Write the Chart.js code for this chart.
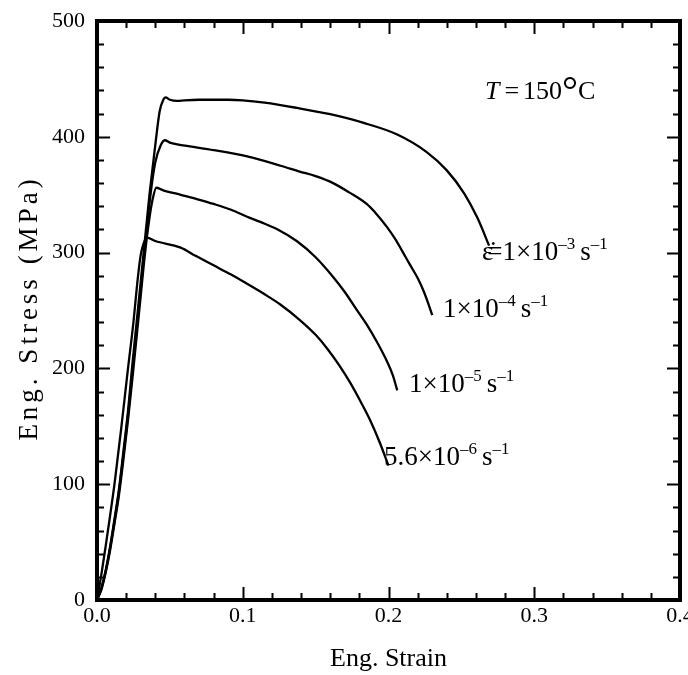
<!DOCTYPE html>
<html>
<head>
<meta charset="utf-8">
<script src="https://cdn.jsdelivr.net/npm/chart.js@4.4.0/dist/chart.umd.min.js"></script>
<style>
  html, body { margin: 0; padding: 0; background: #fff; }
  #wrap { width: 688px; height: 675px; }
</style>
</head>
<body>
<div id="wrap"><canvas id="myChart" width="688" height="675"></canvas></div>
<script>
// strain / stress pairs, one pair of arrays per strain rate
const strain1 = [0, 0.003, 0.006, 0.009, 0.012, 0.015, 0.018, 0.0215, 0.024, 0.028, 0.032, 0.036, 0.040, 0.043, 0.0455, 0.047, 0.050, 0.055, 0.060, 0.070, 0.080, 0.090, 0.100, 0.115, 0.137, 0.160, 0.183, 0.206, 0.226, 0.240, 0.252, 0.261, 0.269];
const stress1 = [0, 10, 26, 46, 70, 95, 127, 166, 200, 250, 300, 350, 393, 422, 432, 434, 432, 431, 431.5, 432, 432, 432, 431.5, 429.5, 425, 419.5, 412, 402, 387, 371, 351, 330, 306];

const strain2 = [0, 0.003, 0.006, 0.009, 0.012, 0.015, 0.018, 0.0215, 0.0245, 0.0285, 0.0325, 0.0365, 0.040, 0.0435, 0.0465, 0.050, 0.055, 0.065, 0.080, 0.103, 0.126, 0.139, 0.150, 0.162, 0.173, 0.185, 0.192, 0.199, 0.205, 0.210, 0.215, 0.220, 0.224, 0.227, 0.230];
const stress2 = [0, 10, 25, 45, 68, 93, 124, 162, 200, 250, 300, 348, 378, 392, 397, 395, 393.5, 391.5, 388.5, 383, 375, 370, 366, 360, 352, 342, 333, 322, 311, 300, 289, 278, 267, 257, 246];

const strain3 = [0, 0.003, 0.006, 0.009, 0.012, 0.015, 0.018, 0.0215, 0.025, 0.029, 0.033, 0.036, 0.038, 0.0407, 0.045, 0.057, 0.069, 0.080, 0.092, 0.103, 0.112, 0.124, 0.137, 0.150, 0.162, 0.170, 0.178, 0.185, 0.192, 0.199, 0.203, 0.206];
const stress3 = [0, 9, 24, 43, 66, 90, 120, 158, 200, 250, 300, 330, 345, 356, 354, 350, 346, 342, 337, 331, 326.5, 320, 310, 296, 279, 266, 251, 238, 223, 206, 194, 181];

const strain4 = [0, 0.003, 0.006, 0.009, 0.012, 0.0165, 0.021, 0.025, 0.028, 0.030, 0.032, 0.0343, 0.040, 0.057, 0.068, 0.080, 0.092, 0.103, 0.115, 0.126, 0.139, 0.150, 0.158, 0.166, 0.174, 0.181, 0.1875, 0.194, 0.200];
const stress4 = [0, 22, 47, 73, 100, 147, 197, 240, 278, 298, 308, 313, 310, 304.5, 297, 289, 281, 273, 264, 255, 242, 229, 217, 203, 187, 171, 155, 136, 116];

const xTicks = [0, 0.1, 0.2, 0.3, 0.4];
const yTicks = [0, 100, 200, 300, 400, 500];

const serif = '"Liberation Serif", "Times New Roman", serif';

function toPoints(xs, ys) {
    return xs.map((x, i) => ({ x: x, y: ys[i] }));
}

const series = [
    toPoints(strain1, stress1),
    toPoints(strain2, stress2),
    toPoints(strain3, stress3),
    toPoints(strain4, stress4)
];

// draw a run of text pieces, some raised as superscripts
function drawRich(ctx, x, baseline, parts) {
    let cx = x;
    parts.forEach(p => {
        ctx.font = (p.italic ? 'italic ' : '') + p.size + 'px ' + serif;
        ctx.fillText(p.t, cx, baseline - (p.dy || 0));
        cx += ctx.measureText(p.t).width + (p.gap || 0);
    });
}

function rateLabel(main, exp) {
    return [
        { t: main, size: 27 },
        { t: '\u2013' + exp, size: 17, dy: 11, gap: 5 },
        { t: 's', size: 27 },
        { t: '\u2013' + '1', size: 17, dy: 11 }
    ];
}

const framePlugin = {
    id: 'frame',
    afterDraw(chart) {
        const ctx = chart.ctx;
        const xs = chart.scales.x, ys = chart.scales.y;
        const a = chart.chartArea;
        ctx.save();
        ctx.strokeStyle = '#000';
        ctx.fillStyle = '#000';

        // inward ticks on all four sides
        ctx.lineWidth = 2;
        for (let v = 0; v <= 500.001; v += 20) {
            const py = Math.round(ys.getPixelForValue(v)) + 0.5;
            const len = (Math.round(v) % 100 === 0) ? 13 : 7;
            ctx.beginPath();
            ctx.moveTo(a.left, py); ctx.lineTo(a.left + len, py);
            ctx.moveTo(a.right, py); ctx.lineTo(a.right - len, py);
            ctx.stroke();
        }
        for (let i = 0; i <= 20; i++) {
            const px = Math.round(xs.getPixelForValue(i * 0.02)) + 0.5;
            const len = (i % 5 === 0) ? 13 : 7;
            ctx.beginPath();
            ctx.moveTo(px, a.bottom); ctx.lineTo(px, a.bottom - len);
            ctx.moveTo(px, a.top); ctx.lineTo(px, a.top + len);
            ctx.stroke();
        }

        // heavy frame
        ctx.lineWidth = 4;
        ctx.strokeRect(a.left, a.top, a.right - a.left, a.bottom - a.top);

        // y axis title, letter spaced like the original
        ctx.save();
        ctx.translate(30, 308);
        ctx.rotate(-Math.PI / 2);
        ctx.font = '27px ' + serif;
        ctx.textAlign = 'center';
        ctx.textBaseline = 'middle';
        if ('letterSpacing' in ctx) ctx.letterSpacing = '4px';
        ctx.fillText('Eng. Stress (MPa)', 0, 0);
        ctx.restore();

        // annotations
        ctx.textAlign = 'left';
        ctx.textBaseline = 'alphabetic';
        drawRich(ctx, 485, 99, [
            { t: 'T', size: 26, italic: true, gap: 5 },
            { t: '=', size: 26, gap: 4 },
            { t: '150', size: 26 },
            { t: '\u00B0', size: 40, dy: -5 },
            { t: 'C', size: 26 }
        ]);
        drawRich(ctx, 482, 260, [
            { t: '\u03B5\u0307', size: 27, gap: -6 },
            { t: '=', size: 27 }
        ].concat(rateLabel('1\u00D710', '3')));
        drawRich(ctx, 443, 317, rateLabel('1\u00D710', '4'));
        drawRich(ctx, 409, 392, rateLabel('1\u00D710', '5'));
        drawRich(ctx, 384, 465, rateLabel('5.6\u00D710', '6'));
        ctx.restore();
    }
};

new Chart('myChart', {
    type: 'scatter',
    data: {
        datasets: series.map(pts => ({
            data: pts,
            showLine: true,
            borderColor: '#000',
            borderWidth: 2.3,
            pointRadius: 0,
            cubicInterpolationMode: 'monotone',
            fill: false
        }))
    },
    options: {
        responsive: false,
        animation: false,
        layout: { padding: { top: 21, right: 8, left: 0, bottom: 0 } },
        plugins: { legend: { display: false }, tooltip: { enabled: false } },
        scales: {
            x: {
                type: 'linear',
                min: 0, max: 0.4,
                afterBuildTicks: s => { s.ticks = xTicks.map(v => ({ value: v })); },
                grid: { display: false, drawTicks: false },
                border: { display: false },
                ticks: {
                    color: '#000',
                    font: { family: serif, size: 22 },
                    padding: 3,
                    maxRotation: 0,
                    callback: v => v.toFixed(1)
                },
                title: {
                    display: true,
                    text: 'Eng. Strain',
                    color: '#000',
                    font: { family: serif, size: 26 },
                    padding: { top: 0, bottom: 0 }
                },
                afterFit: s => { s.height = 75; s.paddingLeft = 0; s.paddingRight = 0; }
            },
            y: {
                type: 'linear',
                min: 0, max: 500,
                afterBuildTicks: s => { s.ticks = yTicks.map(v => ({ value: v })); },
                grid: { display: false, drawTicks: false },
                border: { display: false },
                ticks: {
                    color: '#000',
                    font: { family: serif, size: 22 },
                    padding: 12
                },
                afterFit: s => { s.width = 97; s.paddingTop = 0; s.paddingBottom = 0; }
            }
        }
    },
    plugins: [framePlugin]
});
</script>
</body>
</html>
